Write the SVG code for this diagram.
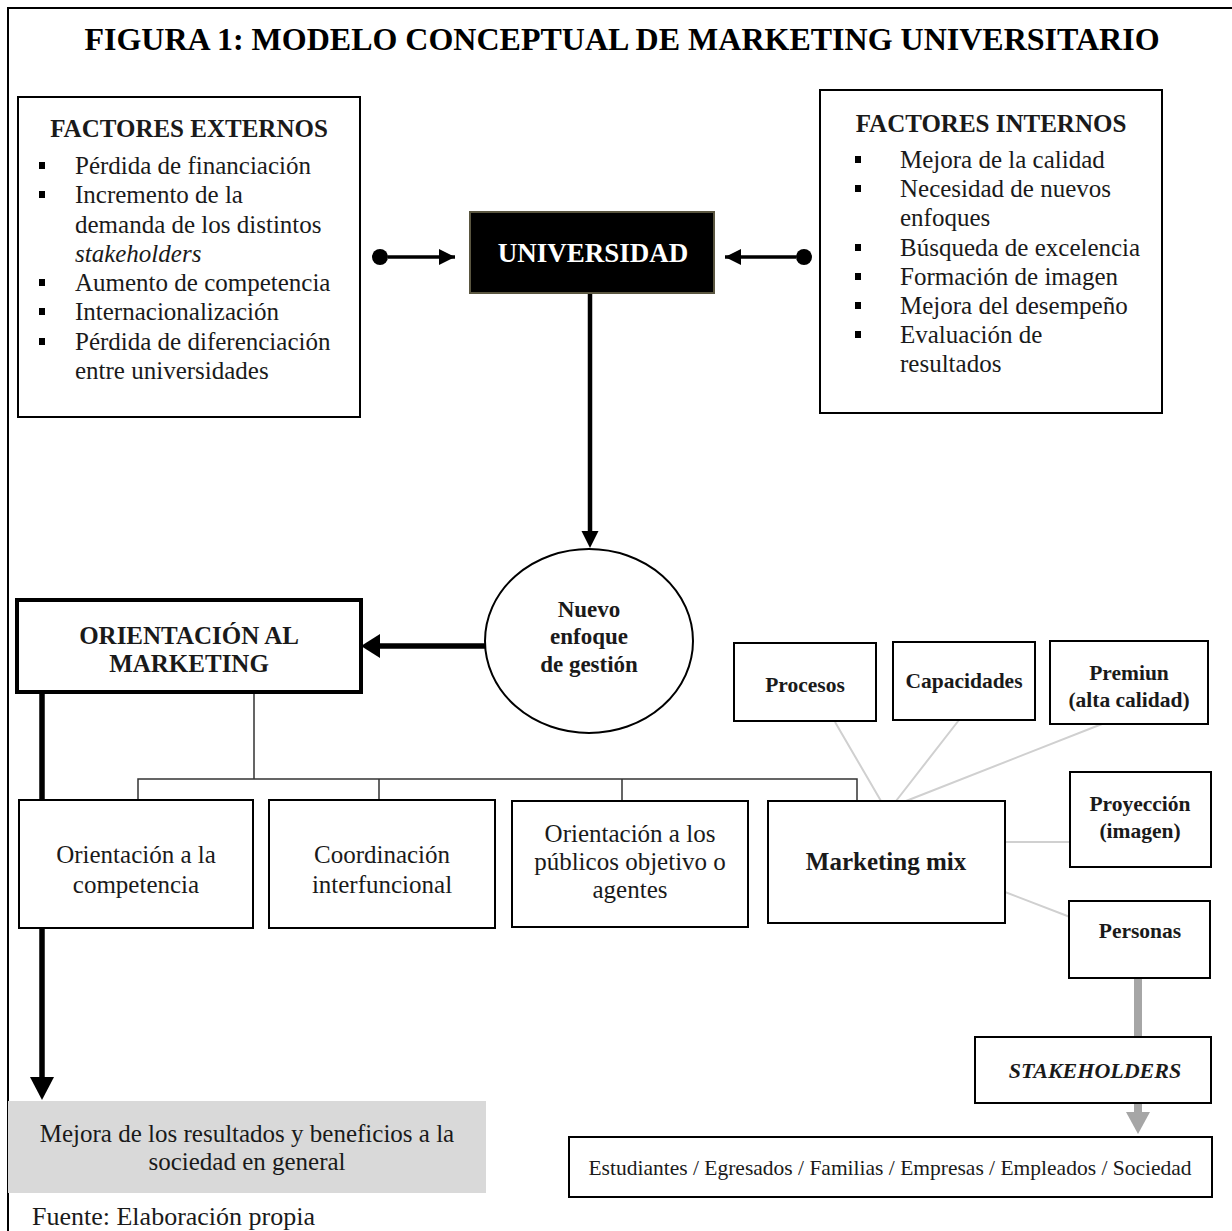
<svg xmlns="http://www.w3.org/2000/svg" width="1232" height="1231" viewBox="0 0 1232 1231">
<defs>
<style>
text{font-family:"Liberation Serif","Times New Roman",serif;fill:#1a1a1a}
.t{font-size:32px;font-weight:bold;text-anchor:middle;fill:#000}
.h{font-size:25px;font-weight:bold;text-anchor:middle}
.b{font-size:25px}
.c{font-size:25px;text-anchor:middle}
.cb{font-size:25px;font-weight:bold;text-anchor:middle}
.sb{font-size:21.5px;font-weight:bold;text-anchor:middle}
.box{fill:#fff;stroke:#000;stroke-width:2}
.bul{fill:#000}
.thin{stroke:#333;stroke-width:1.5;fill:none}
.grey{stroke:#d0d0d0;stroke-width:2;fill:none}
</style>
<marker id="ah" viewBox="0 0 10 10" refX="10" refY="5" markerUnits="userSpaceOnUse" markerWidth="17" markerHeight="16" orient="auto"><path d="M0,0L10,5L0,10z" fill="#000"/></marker>
</defs>
<rect width="1232" height="1231" fill="#fff"/>
<path d="M8,1231V8H1232" fill="none" stroke="#000" stroke-width="2"/>
<text class="t" x="622" y="50">FIGURA 1: MODELO CONCEPTUAL DE MARKETING UNIVERSITARIO</text>

<g id="connectors">
<line x1="388" y1="257" x2="455" y2="257" stroke="#000" stroke-width="3.5" marker-end="url(#ah)"/>
<circle cx="380" cy="257" r="8" fill="#000"/>
<line x1="796" y1="257" x2="725" y2="257" stroke="#000" stroke-width="3.5" marker-end="url(#ah)"/>
<circle cx="804" cy="257" r="8" fill="#000"/>
<line x1="590" y1="293" x2="590" y2="532" stroke="#000" stroke-width="4.5"/>
<path d="M581.5,531L598.5,531L590,548z" fill="#000"/>
<line x1="485" y1="646" x2="378" y2="646" stroke="#000" stroke-width="5.5"/>
<path d="M380,634L380,658L361,646z" fill="#000"/>
<line x1="42" y1="692" x2="42" y2="1078" stroke="#000" stroke-width="5.5"/>
<path d="M30,1077L54,1077L42,1100z" fill="#000"/>
<path class="thin" d="M254,692V779M138,800V779H857V800M379,779V800M622,779V800"/>
<path class="grey" d="M835,722L881,801M959,720L896,801M1102,724L906,801M1005,842H1071M1005,892L1070,917"/>
<line x1="1138" y1="978" x2="1138" y2="1037" stroke="#a6a6a6" stroke-width="8"/>
<line x1="1138" y1="1103" x2="1138" y2="1113" stroke="#a6a6a6" stroke-width="8"/>
<path d="M1126,1112L1150,1112L1138,1134z" fill="#a6a6a6"/>
</g>

<g id="factores-externos">
<rect class="box" x="18" y="97" width="342" height="320"/>
<text class="h" x="189" y="137">FACTORES EXTERNOS</text>
<rect class="bul" x="39" y="162" width="6" height="7"/>
<rect class="bul" x="39" y="191" width="6" height="7"/>
<rect class="bul" x="39" y="279" width="6" height="7"/>
<rect class="bul" x="39" y="308" width="6" height="7"/>
<rect class="bul" x="39" y="338" width="6" height="7"/>
<text class="b" x="75" y="174">Pérdida de financiación</text>
<text class="b" x="75" y="203">Incremento de la</text>
<text class="b" x="75" y="233">demanda de los distintos</text>
<text class="b" x="75" y="262" font-style="italic">stakeholders</text>
<text class="b" x="75" y="291">Aumento de competencia</text>
<text class="b" x="75" y="320">Internacionalización</text>
<text class="b" x="75" y="350">Pérdida de diferenciación</text>
<text class="b" x="75" y="379">entre universidades</text>
</g>

<g id="universidad">
<rect x="470" y="212" width="244" height="81" fill="#000" stroke="#5a5640" stroke-width="2"/>
<text x="593" y="262" font-size="27" font-weight="bold" text-anchor="middle" style="fill:#fff">UNIVERSIDAD</text>
</g>

<g id="factores-internos">
<rect class="box" x="820" y="90" width="342" height="323"/>
<text class="h" x="991" y="132">FACTORES INTERNOS</text>
<rect class="bul" x="855" y="156" width="6" height="7"/>
<rect class="bul" x="855" y="185" width="6" height="7"/>
<rect class="bul" x="855" y="244" width="6" height="7"/>
<rect class="bul" x="855" y="273" width="6" height="7"/>
<rect class="bul" x="855" y="302" width="6" height="7"/>
<rect class="bul" x="855" y="331" width="6" height="7"/>
<text class="b" x="900" y="168">Mejora de la calidad</text>
<text class="b" x="900" y="197">Necesidad de nuevos</text>
<text class="b" x="900" y="226">enfoques</text>
<text class="b" x="900" y="256">Búsqueda de excelencia</text>
<text class="b" x="900" y="285">Formación de imagen</text>
<text class="b" x="900" y="314">Mejora del desempeño</text>
<text class="b" x="900" y="343">Evaluación de</text>
<text class="b" x="900" y="372">resultados</text>
</g>

<g id="nuevo-enfoque">
<ellipse cx="589" cy="641" rx="104" ry="92" fill="#fff" stroke="#000" stroke-width="2"/>
<text x="589" y="617" font-size="23" font-weight="bold" text-anchor="middle">Nuevo</text>
<text x="589" y="644" font-size="23" font-weight="bold" text-anchor="middle">enfoque</text>
<text x="589" y="672" font-size="23" font-weight="bold" text-anchor="middle">de gestión</text>
</g>

<g id="orientacion-marketing">
<rect x="17" y="600" width="344" height="92" fill="#fff" stroke="#000" stroke-width="4"/>
<text class="cb" x="189" y="644">ORIENTACIÓN AL</text>
<text class="cb" x="189" y="672">MARKETING</text>
</g>

<g id="competencia">
<rect class="box" x="19" y="800" width="234" height="128"/>
<text class="c" x="136" y="863">Orientación a la</text>
<text class="c" x="136" y="893">competencia</text>
</g>
<g id="coordinacion">
<rect class="box" x="269" y="800" width="226" height="128"/>
<text class="c" x="382" y="863">Coordinación</text>
<text class="c" x="382" y="893">interfuncional</text>
</g>
<g id="publicos">
<rect class="box" x="512" y="801" width="236" height="126"/>
<text class="c" x="630" y="842">Orientación a los</text>
<text class="c" x="630" y="870">públicos objetivo o</text>
<text class="c" x="630" y="898">agentes</text>
</g>
<g id="marketing-mix">
<rect class="box" x="768" y="801" width="237" height="122"/>
<text class="cb" x="886" y="870">Marketing mix</text>
</g>

<g id="procesos">
<rect class="box" x="734" y="643" width="142" height="78"/>
<text class="sb" x="805" y="692">Procesos</text>
</g>
<g id="capacidades">
<rect class="box" x="893" y="642" width="142" height="78"/>
<text class="sb" x="964" y="688">Capacidades</text>
</g>
<g id="premiun">
<rect class="box" x="1050" y="641" width="158" height="83"/>
<text class="sb" x="1129" y="680">Premiun</text>
<text class="sb" x="1129" y="707">(alta calidad)</text>
</g>
<g id="proyeccion">
<rect class="box" x="1070" y="772" width="141" height="95"/>
<text class="sb" x="1140" y="811">Proyección</text>
<text class="sb" x="1140" y="838">(imagen)</text>
</g>
<g id="personas">
<rect class="box" x="1069" y="901" width="141" height="77"/>
<text class="sb" x="1140" y="938">Personas</text>
</g>

<g id="stakeholders">
<rect class="box" x="975" y="1037" width="236" height="66"/>
<text x="1095" y="1078" font-size="22" font-weight="bold" font-style="italic" text-anchor="middle">STAKEHOLDERS</text>
</g>
<g id="publicos-lista">
<rect class="box" x="569" y="1137" width="643" height="60"/>
<text x="890" y="1175" font-size="21.5" text-anchor="middle">Estudiantes / Egresados / Familias / Empresas / Empleados / Sociedad</text>
</g>

<g id="resultados">
<rect x="8" y="1101" width="478" height="92" fill="#d9d9d9"/>
<text class="c" x="247" y="1142">Mejora de los resultados y beneficios a la</text>
<text class="c" x="247" y="1170">sociedad en general</text>
</g>
<text x="32" y="1225" font-size="26">Fuente: Elaboración propia</text>
</svg>
